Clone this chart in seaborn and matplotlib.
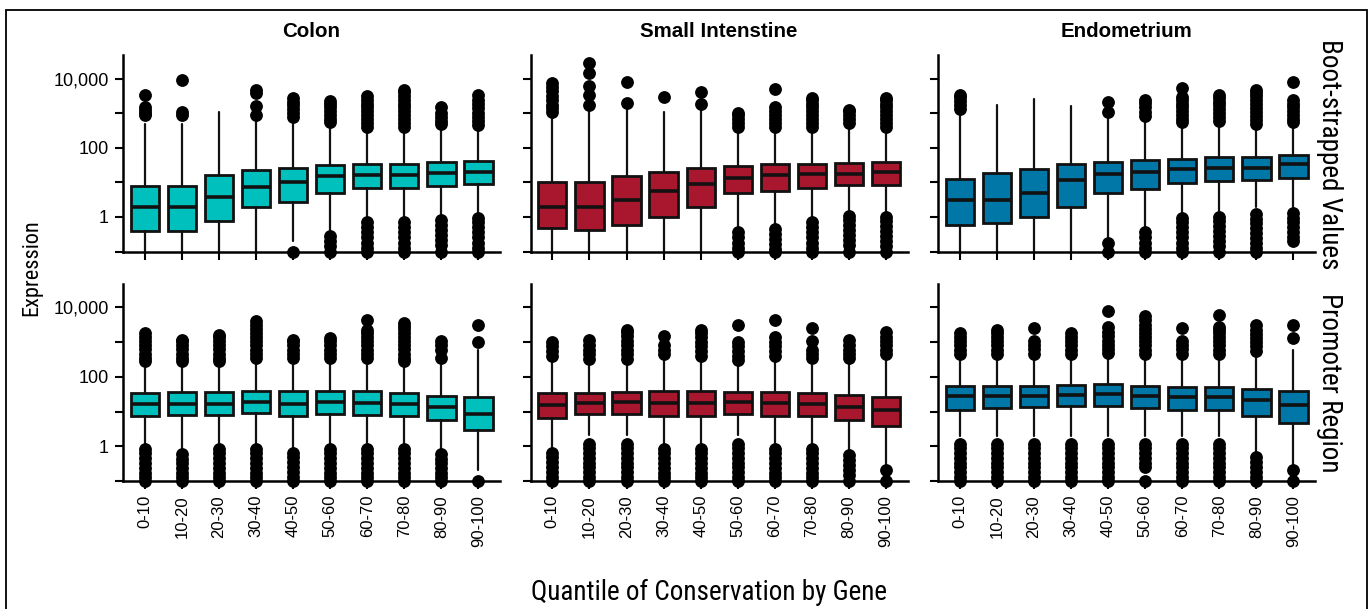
import matplotlib
matplotlib.use("Agg")
import numpy as np
import pandas as pd
import matplotlib.pyplot as plt
import seaborn as sns
from matplotlib.ticker import FixedLocator, FuncFormatter, NullLocator
from matplotlib.patches import Rectangle

# categories
quantiles = ["0-10", "10-20", "20-30", "30-40", "40-50",
             "50-60", "60-70", "70-80", "80-90", "90-100"]
tissues = ["Colon", "Small Intenstine", "Endometrium"]
regions = ["Boot-strapped Values", "Promoter Region"]
tissue_colors = ["#00c0bd", "#a8172d", "#0077a7"]

# box statistics (expression, log scale)
# --- Boot-strapped values ---
colon_boot_med = [1.96, 1.96, 3.9, 7.6, 10, 14.9, 15.9, 15.9, 18.5, 19.4]
colon_boot_q1 = [0.40, 0.40, 0.79, 1.88, 2.8, 4.9, 6.7, 6.7, 7.9, 8.9]
colon_boot_q3 = [7.9, 7.9, 15.9, 22.6, 27, 31.6, 33.8, 34.8, 37.8, 42]
colon_boot_lo = [0.1, 0.1, 0.1, 0.1, 0.195, 0.34, 0.83, 0.8, 0.92, 1.08]
colon_boot_hi = [487, 487, 1060, 582, 543, 466, 333, 333, 400, 372]
colon_boot_out = [
    [900, 1050, 1250, 1500, 3300],
    [900, 1100, 9000],
    [],
    [900, 1600, 3900, 4800],
    [800, 1000, 1300, 1700, 2200, 2800, 0.1],
    [560, 700, 900, 1150, 1500, 1900, 2300, 0.28, 0.2, 0.14, 0.1],
    [400, 520, 680, 880, 1150, 1500, 1900, 2500, 3100,
     0.7, 0.5, 0.36, 0.26, 0.18, 0.13, 0.1],
    [400, 520, 680, 880, 1150, 1500, 1900, 2500, 3200, 4200, 4800,
     0.7, 0.5, 0.36, 0.26, 0.18, 0.13, 0.1],
    [480, 620, 800, 1050, 1500, 0.8, 0.6, 0.42, 0.3, 0.21, 0.15, 0.1],
    [450, 600, 800, 1050, 1400, 1900, 2500, 3400,
     0.95, 0.7, 0.5, 0.36, 0.26, 0.18, 0.13, 0.1],
]

si_boot_med = [1.96, 1.96, 3.0, 5.5, 9.1, 13.3, 16.6, 17.5, 18, 19.4]
si_boot_q1 = [0.47, 0.41, 0.58, 0.99, 1.92, 4.9, 5.7, 6.8, 8.5, 8.5]
si_boot_q3 = [10, 10.6, 15.5, 19.4, 27, 30, 33.8, 34.8, 36.5, 40]
si_boot_lo = [0.1, 0.1, 0.1, 0.1, 0.1, 0.42, 0.53, 0.79, 1.28, 1.15]
si_boot_hi = [1010, 1400, 1300, 1130, 1230, 333, 300, 300, 420, 300]
si_boot_out = [
    [1100, 1400, 1800, 2400, 3200, 4300, 5800, 7500],
    [1700, 3400, 6200, 15000, 28000],
    [1970, 8300],
    [2950],
    [1900, 4100],
    [400, 520, 680, 880, 1000, 0.36, 0.26, 0.18, 0.13, 0.1],
    [400, 520, 680, 880, 1150, 1500, 5000, 0.45, 0.32, 0.23, 0.16, 0.12, 0.1],
    [400, 520, 680, 880, 1150, 1500, 1900, 2500, 2800,
     0.7, 0.5, 0.36, 0.26, 0.18, 0.13, 0.1],
    [520, 680, 880, 1150, 1260, 1.1, 0.8, 0.6, 0.42, 0.3, 0.21, 0.15, 0.1],
    [400, 520, 680, 880, 1150, 1500, 1900, 2500, 2800,
     1.0, 0.75, 0.55, 0.4, 0.28, 0.2, 0.14, 0.1],
]

endo_boot_med = [3.0, 3.0, 5.1, 11.9, 17.4, 20, 24, 27, 27, 33.8]
endo_boot_q1 = [0.57, 0.69, 0.97, 1.92, 4.9, 6.5, 9.7, 10.7, 11.9, 13.3]
endo_boot_q3 = [12.7, 18.2, 24, 34.6, 39.5, 44, 49, 55, 55, 63]
endo_boot_lo = [0.1, 0.1, 0.1, 0.1, 0.25, 0.42, 1.15, 1.15, 2.0, 2.0]
endo_boot_hi = [1130, 1770, 2600, 1640, 910, 730, 466, 520, 420, 466]
endo_boot_out = [
    [1300, 1700, 2300, 3000, 3400],
    [],
    [],
    [],
    [1100, 2200, 0.18, 0.1],
    [850, 1100, 1500, 2000, 2400, 0.36, 0.26, 0.18, 0.13, 0.1],
    [550, 700, 900, 1150, 1500, 1900, 2400, 2900, 5600,
     0.95, 0.7, 0.5, 0.36, 0.26, 0.18, 0.13, 0.1],
    [600, 780, 1000, 1300, 1700, 2200, 2800, 3400,
     1.0, 0.75, 0.55, 0.4, 0.28, 0.2, 0.14, 0.1],
    [500, 650, 850, 1100, 1450, 1900, 2500, 3200, 4000, 4800,
     1.2, 0.9, 0.65, 0.47, 0.34, 0.25, 0.18, 0.13, 0.1],
    [550, 700, 900, 1150, 1500, 1900, 2400, 8300,
     1.3, 0.95, 0.7, 0.5, 0.36, 0.26, 0.2],
]

# --- Promoter region ---
colon_prom_med = [16.3, 16.3, 17, 19, 17, 19.4, 18, 16.3, 13.9, 8.6]
colon_prom_q1 = [7.7, 8, 8, 9, 7.7, 8.5, 7.9, 7.7, 5.8, 3.0]
colon_prom_q3 = [35, 36, 36, 40, 38, 39, 39, 35, 28, 26]
colon_prom_lo = [1.0, 0.7, 1.0, 1.05, 0.78, 1.05, 1.0, 1.0, 0.7, 0.21]
colon_prom_hi = [248, 248, 248, 310, 310, 310, 310, 248, 220, 600]
colon_prom_out = [
    [280, 360, 470, 620, 800, 1050, 1400, 1800,
     0.85, 0.62, 0.45, 0.33, 0.24, 0.17, 0.13, 0.1],
    [280, 360, 470, 620, 800, 1050, 1170,
     0.6, 0.44, 0.32, 0.23, 0.17, 0.13, 0.1],
    [280, 360, 470, 620, 800, 1050, 1400, 1600,
     0.85, 0.62, 0.45, 0.33, 0.24, 0.17, 0.13, 0.1],
    [350, 450, 600, 800, 1050, 1400, 1800, 2400, 3200, 4000,
     0.85, 0.62, 0.45, 0.33, 0.24, 0.17, 0.13, 0.1],
    [350, 450, 600, 800, 1050, 1170,
     0.66, 0.48, 0.35, 0.25, 0.18, 0.13, 0.1],
    [350, 450, 600, 800, 1050, 1300,
     0.85, 0.62, 0.45, 0.33, 0.24, 0.17, 0.13, 0.1],
    [350, 450, 600, 800, 1050, 1400, 1800, 2200, 4200,
     0.85, 0.62, 0.45, 0.33, 0.24, 0.17, 0.13, 0.1],
    [280, 360, 470, 620, 800, 1050, 1400, 1800, 2400, 3000, 3600,
     0.85, 0.62, 0.45, 0.33, 0.24, 0.17, 0.13, 0.1],
    [350, 600, 800, 1050, 0.6, 0.44, 0.32, 0.23, 0.17, 0.13, 0.1],
    [1040, 3160, 0.1],
]

si_prom_med = [15.6, 18, 19, 18, 18, 19, 18, 16.6, 13.9, 11.2]
si_prom_q1 = [6.7, 8.6, 8.6, 7.7, 7.7, 8.6, 7.7, 7.7, 5.8, 3.9]
si_prom_q3 = [34, 35, 37, 40, 40, 37, 37, 35, 29.5, 26]
si_prom_lo = [0.78, 2.1, 2.1, 1.0, 1.0, 2.1, 1.0, 1.05, 0.63, 0.29]
si_prom_hi = [325, 250, 250, 325, 325, 220, 310, 220, 310, 350]
si_prom_out = [
    [400, 550, 750, 1040, 0.66, 0.48, 0.35, 0.25, 0.18, 0.13, 0.1],
    [330, 450, 600, 800, 1170,
     1.2, 0.9, 0.65, 0.47, 0.34, 0.25, 0.18, 0.13, 0.1],
    [330, 450, 600, 800, 1100, 1500, 2000, 2200,
     1.2, 0.9, 0.65, 0.47, 0.34, 0.25, 0.18, 0.13, 0.1],
    [450, 600, 800, 1500, 0.85, 0.62, 0.45, 0.33, 0.24, 0.17, 0.13, 0.1],
    [400, 550, 750, 1000, 1400, 1800, 2200,
     0.85, 0.62, 0.45, 0.33, 0.24, 0.17, 0.13, 0.1],
    [300, 400, 550, 750, 1040, 3160,
     1.2, 0.9, 0.65, 0.47, 0.34, 0.25, 0.18, 0.13, 0.1],
    [400, 550, 750, 1000, 1400, 4400,
     0.85, 0.62, 0.45, 0.33, 0.24, 0.17, 0.13, 0.1],
    [350, 450, 600, 1050, 2500,
     0.85, 0.62, 0.45, 0.33, 0.24, 0.17, 0.13, 0.1],
    [350, 450, 600, 800, 1170, 0.55, 0.4, 0.29, 0.21, 0.15, 0.1],
    [450, 600, 800, 1050, 1400, 2000, 0.21, 0.1],
]

endo_prom_med = [27.7, 29, 29, 30, 32, 29, 26, 26, 21.7, 15.6]
endo_prom_q1 = [11.2, 12.7, 13.3, 14, 14, 12.7, 11.2, 11.2, 7.7, 4.6]
endo_prom_q3 = [56, 56, 56, 59, 63, 56, 50, 50, 45, 38]
endo_prom_lo = [2.0, 2.0, 2.0, 2.0, 2.0, 2.0, 2.0, 2.0, 0.56, 0.26]
endo_prom_hi = [386, 386, 350, 350, 430, 350, 350, 350, 480, 600]
endo_prom_out = [
    [450, 600, 800, 1050, 1400, 1800,
     1.2, 0.9, 0.65, 0.47, 0.34, 0.25, 0.18, 0.13, 0.1],
    [450, 600, 800, 1050, 1400, 1800, 2200,
     1.2, 0.9, 0.65, 0.47, 0.34, 0.25, 0.18, 0.13, 0.1],
    [450, 650, 850, 1050, 2500,
     1.2, 0.9, 0.65, 0.47, 0.34, 0.25, 0.18, 0.13, 0.1],
    [450, 600, 800, 1050, 1400, 1800,
     1.2, 0.9, 0.65, 0.47, 0.34, 0.25, 0.18, 0.13, 0.1],
    [500, 650, 850, 1100, 1500, 2000, 2700, 8100,
     1.2, 0.9, 0.65, 0.47, 0.34, 0.25, 0.18, 0.13, 0.1],
    [450, 600, 800, 1050, 1400, 1800, 2400, 3200, 4200, 5500,
     1.2, 0.9, 0.65, 0.47, 0.34, 0.26, 0.1],
    [450, 650, 850, 1050, 2500,
     1.2, 0.9, 0.65, 0.47, 0.34, 0.25, 0.18, 0.13, 0.1],
    [450, 600, 800, 1050, 1400, 1800, 2200, 2700, 5900,
     1.2, 0.9, 0.65, 0.47, 0.34, 0.25, 0.18, 0.13, 0.1],
    [550, 750, 1000, 1300, 1700, 2300, 3100,
     0.5, 0.36, 0.26, 0.18, 0.13, 0.1],
    [1300, 3100, 0.21, 0.1],
]

panels = [
    ("Boot-strapped Values", "Colon", colon_boot_med, colon_boot_q1, colon_boot_q3,
     colon_boot_lo, colon_boot_hi, colon_boot_out),
    ("Boot-strapped Values", "Small Intenstine", si_boot_med, si_boot_q1, si_boot_q3,
     si_boot_lo, si_boot_hi, si_boot_out),
    ("Boot-strapped Values", "Endometrium", endo_boot_med, endo_boot_q1, endo_boot_q3,
     endo_boot_lo, endo_boot_hi, endo_boot_out),
    ("Promoter Region", "Colon", colon_prom_med, colon_prom_q1, colon_prom_q3,
     colon_prom_lo, colon_prom_hi, colon_prom_out),
    ("Promoter Region", "Small Intenstine", si_prom_med, si_prom_q1, si_prom_q3,
     si_prom_lo, si_prom_hi, si_prom_out),
    ("Promoter Region", "Endometrium", endo_prom_med, endo_prom_q1, endo_prom_q3,
     endo_prom_lo, endo_prom_hi, endo_prom_out),
]

rows = []
for region, tissue, med, q1, q3, lo, hi, out in panels:
    for i, q in enumerate(quantiles):
        rows.append(dict(region=region, tissue=tissue, pos=i, quantile=q,
                         med=med[i], q1=q1[i], q3=q3[i],
                         whislo=lo[i], whishi=hi[i], fliers=out[i]))
df = pd.DataFrame(rows)

sns.set_style("ticks")
plt.rcParams["font.family"] = ["Liberation Sans", "DejaVu Sans"]
plt.rcParams["axes.linewidth"] = 1.8
plt.rcParams["axes.edgecolor"] = "black"
plt.rcParams["text.color"] = "black"
plt.rcParams["axes.labelcolor"] = "black"
plt.rcParams["xtick.color"] = "black"
plt.rcParams["ytick.color"] = "black"

INK = "#111111"


def draw_boxes(data, color, label=None, **kws):
    ax = plt.gca()
    stats = [dict(med=r.med, q1=r.q1, q3=r.q3, whislo=r.whislo,
                  whishi=r.whishi, fliers=r.fliers) for r in data.itertuples()]
    art = ax.bxp(stats, positions=data["pos"].tolist(), widths=0.76,
                 patch_artist=True, showcaps=False, manage_ticks=False,
                 boxprops=dict(facecolor=color, edgecolor=INK, linewidth=2.0),
                 medianprops=dict(color=INK, linewidth=2.6),
                 whiskerprops=dict(color=INK, linewidth=1.6),
                 flierprops=dict(marker="o", markerfacecolor="black",
                                 markeredgecolor="black", markersize=8.2))
    for f in art["fliers"]:
        f.set_clip_on(False)
        f.set_zorder(4)


g = sns.FacetGrid(df, row="region", col="tissue", hue="tissue",
                  row_order=regions, col_order=tissues, hue_order=tissues,
                  palette=tissue_colors, sharex=True, sharey="row",
                  height=3.045, aspect=1.5)
g.map_dataframe(draw_boxes)

fig = g.figure
fig.set_size_inches(13.72, 6.09)


def fmt(v, pos):
    return f"{v:,.0f}" if v in (1, 100, 10000) else ""


for (i, j), ax in np.ndenumerate(g.axes):
    ax.set_yscale("log")
    ax.set_ylim(0.1, 49000 if i == 0 else 45700)
    ax.set_xlim(-0.59, 9.58)
    ax.yaxis.set_major_locator(FixedLocator([0.1, 1, 10, 100, 1000, 10000]))
    ax.yaxis.set_major_formatter(FuncFormatter(fmt))
    ax.yaxis.set_minor_locator(NullLocator())
    ax.set_xticks(range(len(quantiles)), quantiles)
    ax.tick_params(axis="both", direction="out", length=6, width=1.5,
                   colors="black")
    ax.tick_params(axis="y", labelsize=13, pad=4)
    ax.tick_params(axis="x", labelsize=12, pad=4, labelrotation=90)
    ax.set_xlabel("")
    ax.set_ylabel("")
    ax.set_title("")
    if i == 0:
        ax.set_title(tissues[j], fontsize=14.8, fontweight="bold", pad=13)

fig.subplots_adjust(left=123 / 1372, right=1315 / 1372,
                    top=1 - 55 / 609, bottom=1 - 481 / 609,
                    wspace=30.5 / 377, hspace=33 / 196.5)

# condensed face where one is installed
narrow = ["Liberation Sans Narrow", "Roboto Condensed", "DejaVu Sans"]

# row (margin) titles
fig.text(1330 / 1372, 1 - 154 / 609, regions[0], rotation=-90,
         ha="center", va="center", fontsize=19.5, family=narrow,
         fontstretch="condensed")
fig.text(1330 / 1372, 1 - 383 / 609, regions[1], rotation=-90,
         ha="center", va="center", fontsize=19.5, family=narrow,
         fontstretch="condensed")

# shared axis labels
fig.text(32 / 1372, 1 - 268 / 609, "Expression", rotation=90,
         ha="center", va="center", fontsize=16, family=narrow,
         fontstretch="condensed")
fig.text(709 / 1372, 1 - 592 / 609, "Quantile of Conservation by Gene",
         ha="center", va="center", fontsize=19.5, family=narrow,
         fontstretch="condensed")

# outer frame
fig.add_artist(Rectangle((6 / 1372, -0.02), 1361 / 1372, 1.02 - 10 / 609,
                         transform=fig.transFigure, fill=False,
                         edgecolor="black", linewidth=1.3))

fig.savefig("out.png", dpi=100)
